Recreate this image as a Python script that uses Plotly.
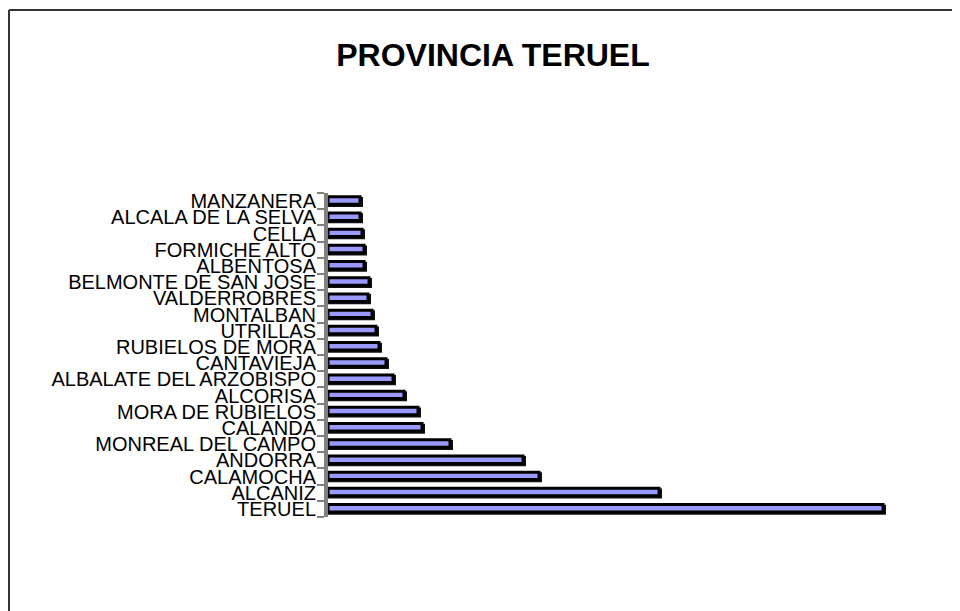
import plotly.graph_objects as go

# bottom to top
municipios = [
    "TERUEL", "ALCAÑIZ", "CALAMOCHA", "ANDORRA", "MONREAL DEL CAMPO",
    "CALANDA", "MORA DE RUBIELOS", "ALCORISA", "ALBALATE DEL ARZOBISPO",
    "CANTAVIEJA", "RUBIELOS DE MORA", "UTRILLAS", "MONTALBAN",
    "VALDERROBRES", "BELMONTE DE SAN JOSE", "ALBENTOSA", "FORMICHE ALTO",
    "CELLA", "ALCALA DE LA SELVA", "MANZANERA",
]
valores = [555, 331, 211, 195, 122, 94, 90, 76, 65, 58,
           51, 48, 44, 40, 41, 36, 36, 34, 32, 32]
etiquetas = [m.replace("Ñ", "N") for m in municipios]

FILL = "#9999FF"
AXIS_GREY = "#808080"

# page body adds ~8px, so positions are shifted back by that
OFF = 8
PLOT_L, PLOT_R, PLOT_T, PLOT_B = 328 - OFF, 900 - OFF, 193 - OFF, 517 - OFF
W, H = 960, 611


def px_x(p):
    return (p - OFF - PLOT_L) / (PLOT_R - PLOT_L)


def px_y(p):
    return (PLOT_B - (p - OFF)) / (PLOT_B - PLOT_T)


fig = go.Figure()

# shadow (3D depth) behind the bars
fig.add_trace(go.Bar(
    y=etiquetas, x=[v + 3 for v in valores], orientation="h",
    width=0.62, offset=-0.36,
    marker=dict(color="#111111", line=dict(width=0)),
    hoverinfo="skip", showlegend=False,
))
fig.add_trace(go.Bar(
    y=etiquetas, x=valores, orientation="h",
    width=0.46, offset=-0.19,
    marker=dict(color=FILL, line=dict(color="black", width=3)),
    showlegend=False,
))

fig.update_layout(
    width=W, height=H,
    margin=dict(l=PLOT_L, r=W - PLOT_R, t=PLOT_T, b=H - PLOT_B),
    paper_bgcolor="white", plot_bgcolor="white",
    barmode="overlay",
    font=dict(family="Liberation Sans, Arial, sans-serif", color="black"),
    title=dict(
        text="<b>PROVINCIA TERUEL</b>",
        font=dict(size=32, color="black"),
        x=(493 - OFF) / W, xanchor="center", xref="container",
        y=1 - (55 - OFF) / H, yanchor="middle", yref="container",
    ),
    xaxis=dict(range=[0, PLOT_R - PLOT_L], visible=False, fixedrange=True),
    yaxis=dict(
        categoryorder="array", categoryarray=etiquetas,
        tickmode="array", tickvals=etiquetas, ticktext=etiquetas,
        showline=True, linecolor=AXIS_GREY, linewidth=4,
        ticks="outside", tickson="boundaries", ticklen=7,
        tickcolor=AXIS_GREY, tickwidth=2, ticklabelstandoff=4,
        tickfont=dict(size=20, color="black"),
        showgrid=False, zeroline=False, fixedrange=True,
    ),
    shapes=[
        dict(type="line", xref="paper", yref="paper",
             x0=px_x(9), x1=px_x(9), y0=px_y(640), y1=px_y(10),
             line=dict(color="#333333", width=2)),
        dict(type="line", xref="paper", yref="paper",
             x0=px_x(9), x1=px_x(990), y0=px_y(10), y1=px_y(10),
             line=dict(color="#333333", width=2)),
    ],
)

fig.write_html("out.html")
